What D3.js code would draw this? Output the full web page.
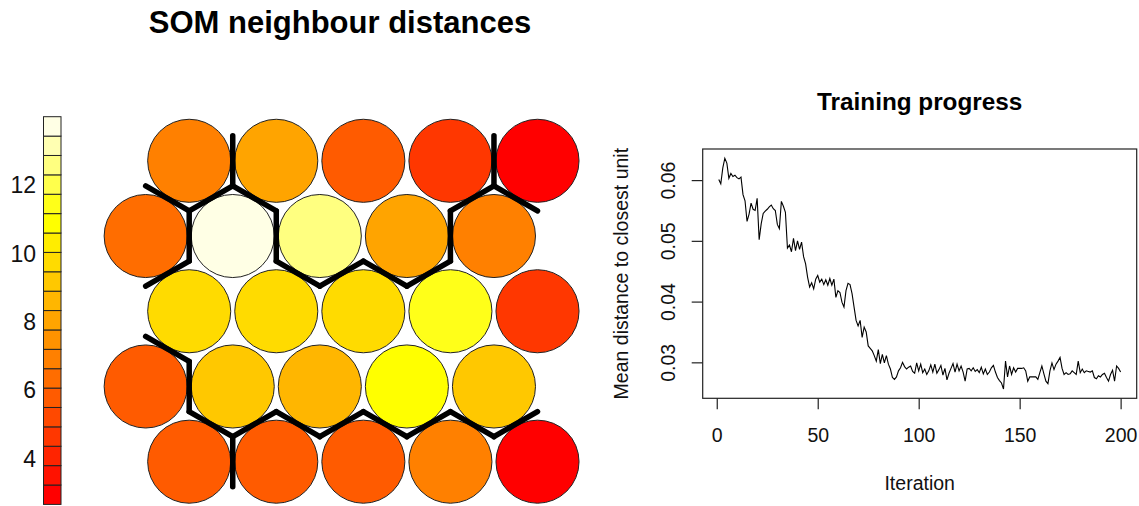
<!DOCTYPE html>
<html>
<head>
<meta charset="utf-8">
<script src="https://cdn.jsdelivr.net/npm/d3@7"></script>
<style>
  body { margin: 0; background: #fff; }
  svg { display: block; font-family: "Liberation Sans", Arial, sans-serif; }
</style>
</head>
<body>
<div id="chart"></div>
<script>
// neighbour distance of each SOM unit, row by row from the top of the map
const unitDistance = [
  6.9, 8.0, 5.8, 4.6, 2.65,
  6.3, 14.0, 12.5, 8.0, 6.9,
  9.7, 9.8, 9.7, 11.4, 4.6,
  5.8, 9.2, 8.6, 10.9, 9.2,
  5.8, 5.9, 5.8, 6.9, 3.0
];
// cluster of each unit, same order (boundaries go between different clusters)
const unitCluster = [
  1, 2, 2, 2, 3,
  4, 5, 2, 2, 5,
  5, 5, 5, 5, 5,
  6, 5, 5, 5, 5,
  6, 7, 7, 7, 7
];
const colorTicks = [4, 6, 8, 10, 12];

// mean distance to closest unit, iterations 1..200
const meanDistance = [
  0.0601, 0.0594, 0.0620, 0.0636, 0.0628, 0.0603, 0.0611, 0.0606, 0.0608, 0.0604,
  0.0602, 0.0605, 0.0576, 0.0566, 0.0532, 0.0544, 0.0562, 0.0552, 0.0550, 0.0570,
  0.0502, 0.0528, 0.0545, 0.0549, 0.0552, 0.0556, 0.0559, 0.0553, 0.0550, 0.0527,
  0.0520, 0.0565, 0.0557, 0.0547, 0.0488, 0.0493, 0.0482, 0.0504, 0.0484, 0.0500,
  0.0486, 0.0498, 0.0474, 0.0462, 0.0440, 0.0424, 0.0431, 0.0421, 0.0437, 0.0443,
  0.0432, 0.0437, 0.0428, 0.0436, 0.0427, 0.0438, 0.0427, 0.0437, 0.0407, 0.0418,
  0.0415, 0.0399, 0.0391, 0.0418, 0.0430, 0.0428, 0.0413, 0.0391, 0.0369, 0.0360,
  0.0369, 0.0341, 0.0358, 0.0350, 0.0327, 0.0323, 0.0319, 0.0311, 0.0302, 0.0321,
  0.0298, 0.0313, 0.0299, 0.0311, 0.0297, 0.0289, 0.0275, 0.0272, 0.0276, 0.0286,
  0.0291, 0.0300, 0.0293, 0.0289, 0.0292, 0.0294, 0.0285, 0.0282, 0.0299, 0.0286,
  0.0297, 0.0283, 0.0289, 0.0280, 0.0286, 0.0296, 0.0284, 0.0297, 0.0282, 0.0288,
  0.0295, 0.0279, 0.0290, 0.0271, 0.0282, 0.0290, 0.0298, 0.0284, 0.0297, 0.0286,
  0.0294, 0.0284, 0.0269, 0.0289, 0.0290, 0.0286, 0.0291, 0.0285, 0.0288, 0.0283,
  0.0292, 0.0281, 0.0289, 0.0280, 0.0284, 0.0291, 0.0295, 0.0284, 0.0275, 0.0270,
  0.0266, 0.0256, 0.0302, 0.0276, 0.0294, 0.0280, 0.0291, 0.0284, 0.0290, 0.0290,
  0.0290, 0.0291, 0.0286, 0.0269, 0.0276, 0.0276, 0.0276, 0.0276, 0.0272, 0.0283,
  0.0294, 0.0281, 0.0269, 0.0265, 0.0286, 0.0299, 0.0288, 0.0297, 0.0302, 0.0308,
  0.0290, 0.0280, 0.0283, 0.0280, 0.0281, 0.0286, 0.0283, 0.0280, 0.0302, 0.0283,
  0.0289, 0.0283, 0.0286, 0.0285, 0.0284, 0.0286, 0.0275, 0.0273, 0.0278, 0.0276,
  0.0280, 0.0282, 0.0275, 0.0269, 0.0280, 0.0287, 0.0269, 0.0294, 0.0290, 0.0284
];
const xTicks = [0, 50, 100, 150, 200];
const yTicks = [0.03, 0.04, 0.05, 0.06];

// R heat.colors(20)
const heat = ["#FF0000", "#FF1200", "#FF2400", "#FF3700", "#FF4900", "#FF5B00", "#FF6D00",
  "#FF8000", "#FF9200", "#FFA400", "#FFB600", "#FFC800", "#FFDB00", "#FFED00", "#FFFF00",
  "#FFFF19", "#FFFF4C", "#FFFF80", "#FFFFB2", "#FFFFE5"];

function init() {
    const w = 1139, h = 506;
    const font = "'Liberation Sans', Arial, sans-serif";

    const svg = d3.select("#chart")
        .append("svg")
        .attr("width", w)
        .attr("height", h);

    svg.append("rect").attr("width", w).attr("height", h).attr("fill", "#fff");

    // ---------- SOM map ----------
    const ncol = 5;
    const s3 = Math.sqrt(3) / 2;
    const units = unitDistance.map((v, i) => {
        const row = Math.floor(i / ncol), col = i % ncol;
        return { v: v, cl: unitCluster[i], gx: col - (row % 2 ? 0.5 : 0), gy: row * s3 };
    });

    const xHex = d3.scaleLinear().domain([0, 4]).range([189.2, 537.5]);
    const yHex = d3.scaleLinear().domain([0, 4 * s3]).range([160.8, 461.7]);
    const r = xHex(0.477) - xHex(0);

    const ext = d3.extent(unitDistance);
    const color = d3.scaleQuantize().domain(ext).range(heat);

    svg.append("text")
        .attr("x", 340)
        .attr("y", 33)
        .attr("text-anchor", "middle")
        .attr("font-size", "31px")
        .attr("font-weight", "bold")
        .text("SOM neighbour distances");

    svg.selectAll("circle.unit")
        .data(units)
        .enter()
        .append("circle")
        .attr("class", "unit")
        .attr("cx", d => xHex(d.gx))
        .attr("cy", d => yHex(d.gy))
        .attr("r", r)
        .attr("fill", d => color(d.v))
        .attr("stroke", "#222")
        .attr("stroke-width", 1);

    // cluster boundaries: shared hexagon edge of neighbouring units in different clusters
    const edges = [];
    const half = 0.5 / Math.sqrt(3);
    units.forEach((a, i) => {
        units.forEach((b, j) => {
            if (j <= i) return;
            const dx = b.gx - a.gx, dy = b.gy - a.gy;
            const dist = Math.hypot(dx, dy);
            if (Math.abs(dist - 1) > 0.01 || a.cl === b.cl) return;
            const mx = (a.gx + b.gx) / 2, my = (a.gy + b.gy) / 2;
            const px = -dy / dist, py = dx / dist;
            edges.push({ x1: mx + px * half, y1: my + py * half, x2: mx - px * half, y2: my - py * half });
        });
    });

    svg.selectAll("line.bound")
        .data(edges)
        .enter()
        .append("line")
        .attr("class", "bound")
        .attr("x1", d => xHex(d.x1))
        .attr("y1", d => yHex(d.y1))
        .attr("x2", d => xHex(d.x2))
        .attr("y2", d => yHex(d.y2))
        .attr("stroke", "#000")
        .attr("stroke-width", 5.5)
        .attr("stroke-linecap", "round");

    // colour bar
    const yBar = d3.scaleLinear().domain(ext).range([504.4, 116.7]);
    const step = (ext[1] - ext[0]) / heat.length;
    svg.selectAll("rect.bar")
        .data(heat)
        .enter()
        .append("rect")
        .attr("class", "bar")
        .attr("x", 43.5)
        .attr("width", 17.5)
        .attr("y", (c, k) => yBar(ext[0] + (k + 1) * step))
        .attr("height", (c, k) => yBar(ext[0] + k * step) - yBar(ext[0] + (k + 1) * step))
        .attr("fill", c => c)
        .attr("stroke", "#222")
        .attr("stroke-width", 1);

    svg.selectAll("text.cb")
        .data(colorTicks)
        .enter()
        .append("text")
        .attr("class", "cb")
        .attr("x", 36)
        .attr("y", d => yBar(d))
        .attr("dy", "0.36em")
        .attr("text-anchor", "end")
        .attr("font-size", "23px")
        .attr("fill", "#111")
        .text(d => d);

    // ---------- Training progress ----------
    const left = 702.7, right = 1136.7, top = 149, bottom = 398.3;
    const n = meanDistance.length;
    const pad = (n - 1) * 0.04;
    const x = d3.scaleLinear().domain([1 - pad, n + pad]).range([left, right]);
    const yr = d3.extent(meanDistance);
    const ypad = (yr[1] - yr[0]) * 0.04;
    const y = d3.scaleLinear().domain([yr[0] - ypad, yr[1] + ypad]).range([bottom, top]);

    svg.append("text")
        .attr("x", (left + right) / 2)
        .attr("y", 110)
        .attr("text-anchor", "middle")
        .attr("font-size", "24.3px")
        .attr("font-weight", "bold")
        .text("Training progress");

    svg.append("path")
        .datum(meanDistance)
        .attr("fill", "none")
        .attr("stroke", "#000")
        .attr("stroke-width", 1.1)
        .attr("d", d3.line().x((d, i) => x(i + 1)).y(d => y(d)));

    svg.append("rect")
        .attr("x", left)
        .attr("y", top)
        .attr("width", right - left)
        .attr("height", bottom - top)
        .attr("fill", "none")
        .attr("stroke", "#222")
        .attr("stroke-width", 1.2);

    const gx = svg.append("g")
        .attr("transform", `translate(0,${bottom})`)
        .call(d3.axisBottom(x).tickValues(xTicks).tickSize(11).tickPadding(18.5).tickFormat(d3.format("d")));
    gx.select(".domain").remove();
    gx.selectAll("line").attr("stroke", "#222").attr("stroke-width", 1.2);
    gx.selectAll("text")
        .attr("font-family", font)
        .attr("font-size", "19.5px")
        .attr("fill", "#111");

    const gy = svg.append("g")
        .attr("transform", `translate(${left},0)`)
        .call(d3.axisLeft(y).tickValues(yTicks).tickSize(11).tickFormat(d3.format(".2f")));
    gy.select(".domain").remove();
    gy.selectAll("line").attr("stroke", "#222").attr("stroke-width", 1.2);
    gy.selectAll("text")
        .attr("x", null)
        .attr("dy", null)
        .attr("text-anchor", "middle")
        .attr("transform", `translate(${675 - left},0) rotate(-90)`)
        .attr("font-family", font)
        .attr("font-size", "19.5px")
        .attr("fill", "#111");

    svg.append("text")
        .attr("x", (left + right) / 2)
        .attr("y", 490)
        .attr("text-anchor", "middle")
        .attr("font-size", "19.5px")
        .attr("fill", "#111")
        .text("Iteration");

    svg.append("text")
        .attr("transform", `translate(628,${(top + bottom) / 2}) rotate(-90)`)
        .attr("text-anchor", "middle")
        .attr("font-size", "19.5px")
        .attr("fill", "#111")
        .text("Mean distance to closest unit");
}

window.onload = init;
</script>
</body>
</html>
